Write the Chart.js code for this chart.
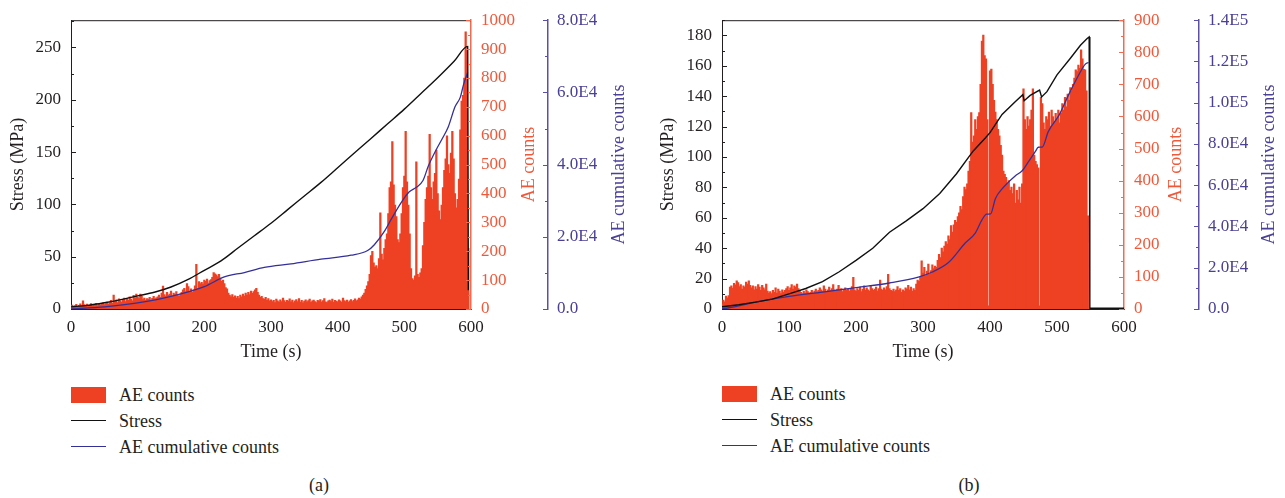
<!DOCTYPE html>
<html>
<head>
<meta charset="utf-8">
<title>Stress and AE counts vs time</title>
<script src="https://cdn.jsdelivr.net/npm/chart.js@4.4.1/dist/chart.umd.min.js"></script>
<style>
  html, body { margin: 0; padding: 0; background: #fff; }
  body { position: relative; width: 1285px; height: 498px; overflow: hidden;
         font-family: "Liberation Serif", "DejaVu Serif", serif; color: #231f20; }
  canvas { position: absolute; top: 0; }
  #chartA { left: 0; }
  #chartB { left: 650px; }
  .legend { position: absolute; font-size: 18px; }
  .legend .item { position: relative; height: 26px; line-height: 26px; padding-left: 48px; white-space: nowrap; }
  .legend .box { position: absolute; left: 0; top: 5px; width: 35px; height: 16px; }
  .legend .line { position: absolute; left: 0; top: 12px; width: 35px; height: 0; border-top: 1.5px solid; }
  .caption { position: absolute; top: 474px; font-size: 18px; line-height: 22px; width: 40px; text-align: center; }
</style>
</head>
<body>
<canvas id="chartA" width="640" height="366"></canvas>
<canvas id="chartB" width="635" height="366"></canvas>
<div class="legend" id="legendA" style="left:71px; top:382px;"></div>
<div class="legend" id="legendB" style="left:722px; top:381px;"></div>
<div class="caption" style="left:299px;">(a)</div>
<div class="caption" style="left:949px;">(b)</div>
<script>
// ---------- panel (a) ----------
const aeStepA = 2; // seconds between AE count bins
const aeCountsA = [
  10, 14, 8, 12, 16, 9, 13, 18, 11, 28,
  15, 12, 17, 10, 14, 19, 11, 15, 13, 20,
  12, 16, 14, 18, 21, 15, 19, 24, 17, 22,
  30, 20, 48, 26, 32, 22, 35, 28, 24, 33,
  38, 26, 36, 30, 42, 34, 28, 47, 38, 52,
  40, 36, 52, 44, 33, 38, 30, 36, 34, 40,
  31, 37, 44, 35, 39, 42, 48, 40, 55, 79,
  50, 45, 58, 48, 52, 62, 46, 55, 50, 60,
  48, 44, 52, 58, 66, 72, 60, 88, 78, 62,
  70, 58, 66, 80, 155, 72, 95, 88, 92, 86,
  100, 96, 104, 90, 98, 102, 110, 126, 122, 118,
  112, 120, 108, 96, 100, 88, 74, 70, 55, 48,
  42, 50, 40, 46, 38, 44, 36, 48, 42, 52,
  45, 55, 48, 58, 50, 62, 54, 60, 66, 72,
  58, 48, 40, 44, 36, 34, 40, 30, 36, 28,
  32, 26, 30, 22, 34, 28, 24, 32, 26, 38,
  29, 23, 30, 27, 35, 25, 31, 22, 28, 33,
  26, 36, 24, 30, 21, 27, 32, 25, 29, 34,
  23, 28, 31, 26, 22, 30, 27, 33, 24, 29,
  36, 25, 22, 28, 31, 26, 34, 23, 30, 27,
  25, 32, 28, 24, 38, 29, 26, 31, 24, 28,
  33, 26, 30, 35, 28, 32, 38, 34, 42, 48,
  55, 68, 80, 95, 120, 185, 200, 160, 145, 150,
  140, 175, 333, 190, 170, 210, 240, 260, 330, 420,
  440, 580, 430, 360, 320, 240, 230, 260, 330, 420,
  460, 615, 440, 360, 260, 140, 105, 100, 115, 510,
  120, 110, 125, 140, 220, 300, 380, 420, 460, 605,
  420, 380, 440, 470, 550, 400, 340, 310, 360, 420,
  480, 520, 600, 500, 470, 540, 615, 520, 400, 350,
  380, 450, 620, 720, 740, 800, 960, 900, 210
];
const stressTimeA = [0, 25, 50, 75, 100, 125, 150, 175, 200, 225, 250, 275, 300, 325, 350, 375, 400, 425, 450, 475, 500, 525, 550, 575, 595, 596];
const stressA = [2, 3.5, 6, 9, 12.5, 16, 21, 28, 37, 46, 58, 70, 82, 95, 108, 121, 135, 149, 163, 177, 191, 206, 221, 237, 251, 18];
const cumTimeA = [0, 50, 100, 150, 200, 230, 260, 290, 330, 375, 420, 445, 455, 470, 481, 496, 507, 518, 528, 536, 548, 556, 566, 576, 584, 589, 595];
const cumA = [0, 600, 1700, 3500, 6200, 8900, 10100, 11500, 12500, 13800, 14900, 16200, 17800, 21500, 25100, 29700, 32400, 33700, 35600, 39600, 44200, 46900, 50500, 56000, 58700, 62300, 65500];

// ---------- panel (b) ----------
const aeStepB = 2;
const aeCountsB = [
  15, 28, 22, 40, 35, 42, 68, 72, 65, 80,
  75, 88, 82, 70, 76, 62, 72, 68, 84, 78,
  88, 74, 66, 72, 60, 70, 62, 76, 68, 58,
  74, 66, 60, 78, 56, 50, 54, 48, 58, 52,
  66, 50, 62, 56, 48, 60, 52, 58, 64, 70,
  58, 66, 76, 62, 72, 68, 78, 64, 58, 52,
  48, 56, 50, 60, 54, 48, 52, 58, 50, 56,
  62, 54, 58, 66, 60, 56, 72, 62, 54, 60,
  68, 58, 64, 76, 60, 56, 62, 74, 58, 64,
  54, 60, 66, 58, 62, 56, 64, 70, 99, 60,
  56, 64, 58, 68, 54, 62, 72, 58, 66, 60,
  56, 74, 64, 58, 62, 68, 56, 64, 90, 62,
  58, 66, 60, 70, 108, 64, 58, 56, 62, 54,
  60, 70, 58, 64, 52, 60, 56, 66, 62, 74,
  60, 68, 56, 64, 58, 78, 90, 86, 100, 150,
  112, 130, 104, 118, 140, 108, 120, 138, 126, 134,
  130, 152, 170, 160, 190, 178, 196, 210, 202, 228,
  216, 260, 240, 262, 276, 270, 288, 300, 320, 310,
  350, 380, 372, 390, 430, 460, 612, 520, 540, 590,
  560, 600, 612, 700, 835, 854, 790, 780, 590, 10,
  742, 748, 700, 650, 614, 590, 560, 540, 510, 480,
  430, 420, 410, 390, 400, 370, 380, 360, 390, 330,
  370, 340, 380, 330, 390, 686, 590, 560, 600, 570,
  590, 620, 686, 480, 460, 450, 440, 10, 660, 640,
  580, 560, 600, 590, 614, 570, 620, 600, 585, 610,
  590, 620, 580, 610, 640, 620, 660, 630, 670, 650,
  690, 680, 700, 720, 745, 740, 760, 750, 808, 780,
  747, 745, 680, 290
];
const stressTimeB = [0, 25, 50, 75, 100, 125, 150, 175, 200, 225, 250, 275, 300, 325, 350, 375, 393, 400, 418, 438, 449, 451, 460, 474, 477, 485, 500, 520, 535, 545, 548, 549, 600];
const stressB = [1.5, 2.8, 4.5, 6.5, 10, 13.5, 18, 24.5, 32, 40, 50.5, 58, 66, 76, 89, 104, 112.5, 116, 128, 136.5, 141, 137, 140.5, 144, 139.5, 143, 154, 165, 173.5, 178, 179, 0.5, 0.5];
const cumTimeB = [0, 25, 50, 100, 150, 200, 250, 293, 313, 338, 363, 378, 388, 395, 401, 408, 418, 438, 448, 458, 468, 472, 478, 487, 503, 518, 533, 542, 547];
const cumB = [0, 1500, 3300, 6100, 8200, 10400, 12600, 15400, 17800, 22500, 32000, 36800, 43200, 46000, 46100, 53500, 58200, 64600, 67000, 71700, 76500, 78400, 78500, 86000, 94000, 104300, 113800, 118600, 119500];

const textDark = '#231f20';
const aeRed = '#ee4123';
const aeAxisRed = '#f26a4f';
const aeTextRed = '#f0583a';
const cumBlue = '#34309a';
const cumAxisBlue = '#5a50a8';
const cumTextBlue = '#4a4096';
const fontFamily = '"Liberation Serif", "DejaVu Serif", serif';

Chart.defaults.font.family = fontFamily;
Chart.defaults.font.size = 17;
Chart.defaults.color = textDark;

function cumLabel(v) {
  if (v === 0) return '0.0';
  return v.toExponential(1).toUpperCase().replace('E+', 'E');
}

// inward tick marks, top frame line and the two right-hand titles (read upwards)
function makeAxisMarks(marks, titles) {
  return {
    id: 'axisMarks',
    afterDraw(chart) {
      const {ctx, chartArea: area} = chart;
      ctx.save();
      ctx.lineWidth = 1;
      ctx.strokeStyle = textDark;
      ctx.beginPath();
      ctx.moveTo(area.left, area.top + 0.5);
      ctx.lineTo(area.right, area.top + 0.5);
      ctx.stroke();

      marks.forEach(m => {
        const sc = chart.scales[m.id];
        const edge = m.inward > 0 ? sc.right : sc.left;
        ctx.strokeStyle = m.color;
        ctx.lineWidth = m.width;
        ctx.beginPath();
        for (let v = sc.min; v <= sc.max + 1e-6; v += m.minor) {
          const major = Math.abs(v / m.major - Math.round(v / m.major)) < 1e-6;
          const y = Math.round(sc.getPixelForValue(v)) + 0.5;
          ctx.moveTo(edge, y);
          ctx.lineTo(edge + m.inward * (major ? 5 : 3), y);
        }
        ctx.stroke();
      });

      ctx.font = '18px ' + fontFamily;
      ctx.textAlign = 'center';
      ctx.textBaseline = 'middle';
      titles.forEach(t => {
        const sc = chart.scales[t.id];
        ctx.save();
        ctx.translate(sc.left + t.offset, (area.top + area.bottom) / 2);
        ctx.rotate(-Math.PI / 2);
        ctx.fillStyle = t.color;
        ctx.fillText(t.text, 0, 0);
        ctx.restore();
      });
      ctx.restore();
    }
  };
}

function drawPanel(canvasId, legendId, d) {
  const chart = new Chart(document.getElementById(canvasId), {
    type: 'bar',
    data: {
      datasets: [
        {
          type: 'bar',
          label: 'AE counts',
          yAxisID: 'yAE',
          order: 3,
          data: d.ae.map((v, i) => ({x: i * d.step, y: v})),
          backgroundColor: aeRed,
          borderWidth: 0,
          barThickness: 1.6
        },
        {
          type: 'line',
          label: 'Stress',
          yAxisID: 'y',
          order: 1,
          data: d.stressTime.map((t, i) => ({x: t, y: d.stress[i]})),
          borderColor: '#111111',
          borderWidth: 1.4,
          pointRadius: 0,
          cubicInterpolationMode: d.stressSmooth ? 'monotone' : 'default',
          tension: 0
        },
        {
          type: 'line',
          label: 'AE cumulative counts',
          yAxisID: 'yCum',
          order: 2,
          data: d.cumTime.map((t, i) => ({x: t, y: d.cum[i]})),
          borderColor: cumBlue,
          borderWidth: 1.3,
          pointRadius: 0,
          cubicInterpolationMode: 'monotone'
        }
      ]
    },
    options: {
      responsive: false,
      animation: false,
      events: [],
      layout: {padding: {top: 15, bottom: 0, left: 0, right: 0}},
      plugins: {
        legend: {display: false},
        tooltip: {enabled: false}
      },
      scales: {
        x: {
          type: 'linear',
          min: 0,
          max: 600,
          offset: false,
          grid: {display: false, drawTicks: false},
          border: {display: true, color: textDark, width: 1},
          ticks: {stepSize: 100, padding: 8, color: textDark, maxRotation: 0, autoSkip: false, callback: v => String(v)},
          title: {display: true, text: 'Time (s)', color: textDark, font: {size: 18}, padding: {top: 0, bottom: 3}},
          afterFit: s => { s.height = 57; }
        },
        y: {
          position: 'left',
          min: 0,
          max: d.stressMax,
          grid: {display: false, drawTicks: false},
          border: {display: true, color: textDark, width: 1},
          ticks: {stepSize: d.stressStep, padding: 10, color: textDark, includeBounds: false, autoSkip: false, callback: v => String(v)},
          title: {display: true, text: 'Stress (MPa)', color: textDark, font: {size: 18}, padding: {top: 7, bottom: 0}},
          afterFit: s => { s.width = d.leftW; }
        },
        yAE: {
          position: 'right',
          weight: 0,
          min: 0,
          max: d.aeMax,
          grid: {display: false, drawTicks: false},
          border: {display: true, color: aeAxisRed, width: 1.5},
          ticks: {stepSize: 100, padding: 10, color: aeTextRed, autoSkip: false, callback: v => String(v)},
          afterFit: s => { s.width = d.redW; }
        },
        yCum: {
          position: 'right',
          weight: 1,
          min: 0,
          max: d.cumMax,
          grid: {display: false, drawTicks: false},
          border: {display: true, color: cumAxisBlue, width: 1.5},
          ticks: {stepSize: 20000, padding: 9, color: cumTextBlue, autoSkip: false, callback: v => cumLabel(v)},
          afterFit: s => { s.width = d.blueW; }
        }
      }
    },
    plugins: [makeAxisMarks(
      [
        {id: 'y', inward: 1, major: d.stressStep, minor: d.stressMinor, color: textDark, width: 1},
        {id: 'yAE', inward: -1, major: 100, minor: 50, color: aeAxisRed, width: 1.2},
        {id: 'yCum', inward: -1, major: 20000, minor: 10000, color: cumAxisBlue, width: 1.2}
      ],
      [
        {id: 'yAE', offset: d.redTitle, text: 'AE counts', color: aeTextRed},
        {id: 'yCum', offset: d.blueTitle, text: 'AE cumulative counts', color: cumTextBlue}
      ]
    )]
  });

  // legend below the plot, one item per row
  const box = document.getElementById(legendId);
  chart.data.datasets.forEach(ds => {
    const item = document.createElement('div');
    item.className = 'item';
    const mark = document.createElement('span');
    if (ds.type === 'bar') {
      mark.className = 'box';
      mark.style.background = ds.backgroundColor;
    } else {
      mark.className = 'line';
      mark.style.borderColor = ds.borderColor;
    }
    item.appendChild(mark);
    item.appendChild(document.createTextNode(ds.label));
    box.appendChild(item);
  });
}

drawPanel('chartA', 'legendA', {
  step: aeStepA, ae: aeCountsA,
  stressTime: stressTimeA, stress: stressA, stressSmooth: true,
  cumTime: cumTimeA, cum: cumA,
  stressMax: 276, stressStep: 50, stressMinor: 25,
  aeMax: 1000, cumMax: 80000,
  leftW: 71, redW: 77, blueW: 92, redTitle: 58, blueTitle: 71
});

drawPanel('chartB', 'legendB', {
  step: aeStepB, ae: aeCountsB,
  stressTime: stressTimeB, stress: stressB, stressSmooth: false,
  cumTime: cumTimeB, cum: cumB,
  stressMax: 190, stressStep: 20, stressMinor: 10,
  aeMax: 900, cumMax: 140000,
  leftW: 72, redW: 75, blueW: 86, redTitle: 52, blueTitle: 70
});
</script>
</body>
</html>
